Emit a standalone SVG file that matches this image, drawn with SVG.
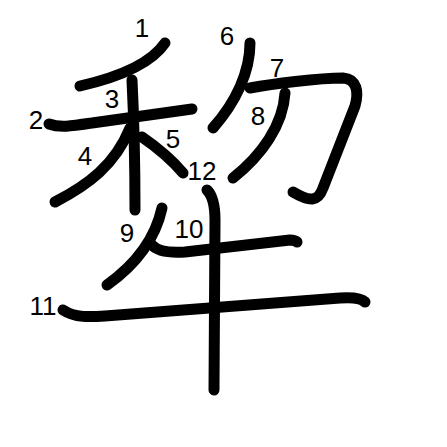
<svg xmlns="http://www.w3.org/2000/svg" width="447" height="447" viewBox="0 0 447 447">
<style>
.s{fill:none;stroke:#000;stroke-width:11;stroke-linecap:round;stroke-linejoin:round}
.n{font-family:"Liberation Sans",Arial,sans-serif;font-size:26px;fill:#000;text-anchor:middle}
</style>
<rect width="447" height="447" fill="#fff"/>
<g id="strokes">
<path id="s1" class="s" d="M165,43 C150,65 115,78 80,86"/>
<path id="s2" class="s" d="M49,124 C60,128 72,126 92,123 L192,109"/>
<path id="s3" class="s" d="M132,80 C134,120 135,170 135,210"/>
<path id="s4" class="s" d="M130,128 C115,165 88,185 55,202"/>
<path id="s5" class="s" d="M142,137 C158,148 172,160 183,173"/>
<path id="s6" class="s" d="M250,43 C250,72 236,102 213,128"/>
<path id="s7" class="s" d="M250,88 C272,84 318,78 343,78 C357,79 359,92 355,106 L323,188 C318,202 310,202 293,192"/>
<path id="s8" class="s" d="M285,93 C283,125 262,155 233,178"/>
<path id="s9" class="s" d="M162,208 C155,240 135,265 107,285"/>
<path id="s10" class="s" d="M152,245 C158,252 170,253 185,252 L290,240 C294,240 296,241 297,242"/>
<path id="s11" class="s" d="M63,310 C75,318 90,317 105,316 L340,298 C355,297 362,299 365,302"/>
<path id="s12" class="s" d="M207,190 C213,196 215,205 215,220 L214,390"/>
</g>
<g id="labels">
<text class="n" x="142" y="37">1</text>
<text class="n" x="36" y="129">2</text>
<text class="n" x="112" y="108">3</text>
<text class="n" x="85" y="165">4</text>
<text class="n" x="173" y="148">5</text>
<text class="n" x="227" y="45">6</text>
<text class="n" x="277" y="77">7</text>
<text class="n" x="258" y="125">8</text>
<text class="n" x="127" y="242">9</text>
<text class="n" x="189" y="238">10</text>
<text class="n" x="43" y="315">11</text>
<text class="n" x="202" y="180">12</text>
</g>
</svg>
